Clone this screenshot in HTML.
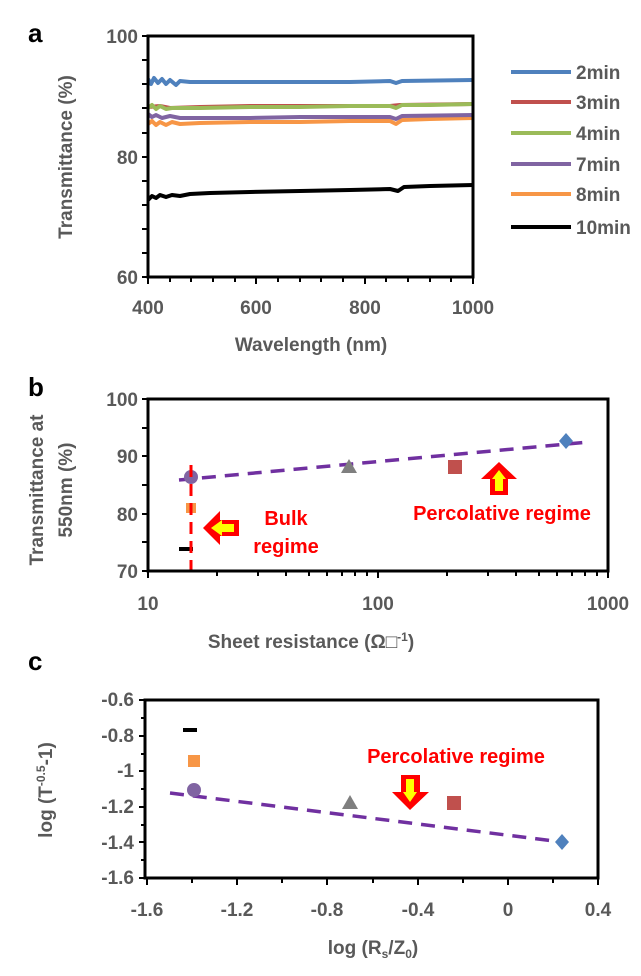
<!DOCTYPE html>
<html><head><meta charset="utf-8"><style>
html,body{margin:0;padding:0;background:#fff}
svg{display:block}
text{font-family:"Liberation Sans",sans-serif}
.t{font-size:19px;font-weight:bold;fill:#595959}
.p{font-size:26px;font-weight:bold;fill:#000}
.r{font-size:20px;font-weight:bold;fill:#ff0000}
</style></head><body>
<svg width="641" height="976" viewBox="0 0 641 976" xmlns="http://www.w3.org/2000/svg">
<!-- Panel a -->
<text class="p" x="28" y="42">a</text>
<g class="t" text-anchor="end">
<text x="138" y="43">100</text><text x="138" y="164">80</text><text x="138" y="284">60</text>
</g>
<g class="t" text-anchor="middle">
<text x="148" y="314">400</text><text x="256" y="314">600</text><text x="365" y="314">800</text><text x="473" y="314">1000</text>
<text x="311" y="351">Wavelength (nm)</text>
<text transform="translate(72,157) rotate(-90)">Transmittance (%)</text>
</g>
<g stroke="#000" stroke-width="2">
<line x1="148" y1="60" x2="142" y2="60"/><line x1="148" y1="84" x2="142" y2="84"/><line x1="148" y1="108" x2="142" y2="108"/><line x1="148" y1="133" x2="142" y2="133"/><line x1="148" y1="157" x2="142" y2="157"/><line x1="148" y1="181" x2="142" y2="181"/><line x1="148" y1="205" x2="142" y2="205"/><line x1="148" y1="229" x2="142" y2="229"/><line x1="148" y1="253" x2="142" y2="253"/><line x1="148" y1="36" x2="142" y2="36"/><line x1="148" y1="277" x2="142" y2="277"/>
<line x1="148" y1="277" x2="148" y2="284"/><line x1="170" y1="277" x2="170" y2="282"/><line x1="191" y1="277" x2="191" y2="282"/><line x1="213" y1="277" x2="213" y2="282"/><line x1="235" y1="277" x2="235" y2="282"/><line x1="256" y1="277" x2="256" y2="284"/><line x1="278" y1="277" x2="278" y2="282"/><line x1="300" y1="277" x2="300" y2="282"/><line x1="321" y1="277" x2="321" y2="282"/><line x1="343" y1="277" x2="343" y2="282"/><line x1="365" y1="277" x2="365" y2="284"/><line x1="386" y1="277" x2="386" y2="282"/><line x1="408" y1="277" x2="408" y2="282"/><line x1="430" y1="277" x2="430" y2="282"/><line x1="451" y1="277" x2="451" y2="282"/><line x1="473" y1="277" x2="473" y2="284"/>
</g>
<g fill="none" stroke-width="4" stroke-linejoin="round">
<polyline stroke="#000" points="148,200 152,196 156,198 160,195 166,197 172,195 180,196 190,194 210,193 250,192 300,191 350,190 390,189 398,191 404,187 430,186 473,185"/>
<polyline stroke="#f79646" points="148,124 152,121 156,125 160,122 166,125 172,122 180,124 200,123 250,122 300,122 350,121 390,121 396,124 402,120 430,119 473,118"/>
<polyline stroke="#8064a2" points="148,114 152,117 156,115 162,118 170,116 180,118 200,118 250,118 300,117 350,117 390,117 396,119 402,116 473,115"/>
<polyline stroke="#c0504d" points="148,107 160,106 170,108 200,107 250,106 300,106 350,106 390,106 400,105 473,104"/>
<polyline stroke="#9bbb59" points="148,108 152,105 156,109 160,106 166,109 172,108 180,108 200,108 250,107 300,107 350,106 390,106 396,108 402,105 430,105 473,104"/>
<polyline stroke="#4f81bd" points="148,79 151,84 154,78 158,83 162,79 166,84 170,80 176,85 180,81 190,82 250,82 300,82 350,82 390,81 396,83 402,81 473,80"/>
</g>
<rect x="148" y="36" width="325" height="241" fill="none" stroke="#000" stroke-width="3"/>
<g stroke-width="4">
<line x1="511" y1="72" x2="571" y2="72" stroke="#4f81bd"/>
<line x1="511" y1="102" x2="571" y2="102" stroke="#c0504d"/>
<line x1="511" y1="133" x2="571" y2="133" stroke="#9bbb59"/>
<line x1="511" y1="164" x2="571" y2="164" stroke="#8064a2"/>
<line x1="511" y1="194" x2="571" y2="194" stroke="#f79646"/>
<line x1="511" y1="227" x2="571" y2="227" stroke="#000"/>
</g>
<g class="t">
<text x="576" y="79">2min</text><text x="576" y="109">3min</text><text x="576" y="140">4min</text><text x="576" y="171">7min</text><text x="576" y="201">8min</text><text x="576" y="234">10min</text>
</g>

<!-- Panel b -->
<text class="p" x="28" y="396">b</text>
<g class="t" text-anchor="end">
<text x="138" y="406">100</text><text x="138" y="463">90</text><text x="138" y="521">80</text><text x="138" y="578">70</text>
</g>
<g class="t" text-anchor="middle">
<text x="148" y="610">10</text><text x="378" y="610">100</text><text x="608" y="610">1000</text>
<text x="311" y="648">Sheet resistance (Ω□<tspan font-size="12" dy="-7">-1</tspan><tspan dy="7">)</tspan></text>
<text transform="translate(43,490) rotate(-90)">Transmittance at</text>
<text transform="translate(72,490) rotate(-90)">550nm (%)</text>
</g>
<g stroke="#000" stroke-width="2">
<line x1="148" y1="399" x2="142" y2="399"/><line x1="148" y1="428" x2="142" y2="428"/><line x1="148" y1="456" x2="142" y2="456"/><line x1="148" y1="485" x2="142" y2="485"/><line x1="148" y1="514" x2="142" y2="514"/><line x1="148" y1="542" x2="142" y2="542"/><line x1="148" y1="571" x2="142" y2="571"/>
<line x1="148" y1="571" x2="148" y2="578"/><line x1="217" y1="571" x2="217" y2="576"/><line x1="258" y1="571" x2="258" y2="576"/><line x1="286" y1="571" x2="286" y2="576"/><line x1="309" y1="571" x2="309" y2="576"/><line x1="327" y1="571" x2="327" y2="576"/><line x1="342" y1="571" x2="342" y2="576"/><line x1="355" y1="571" x2="355" y2="576"/><line x1="367" y1="571" x2="367" y2="576"/><line x1="378" y1="571" x2="378" y2="578"/><line x1="447" y1="571" x2="447" y2="576"/><line x1="488" y1="571" x2="488" y2="576"/><line x1="516" y1="571" x2="516" y2="576"/><line x1="539" y1="571" x2="539" y2="576"/><line x1="557" y1="571" x2="557" y2="576"/><line x1="572" y1="571" x2="572" y2="576"/><line x1="585" y1="571" x2="585" y2="576"/><line x1="597" y1="571" x2="597" y2="576"/><line x1="608" y1="571" x2="608" y2="578"/>
</g>
<line x1="179" y1="480" x2="589" y2="442" stroke="#7030a0" stroke-width="3.5" stroke-dasharray="14,9"/>
<circle cx="191" cy="477" r="7" fill="#8064a2"/>
<polygon points="349,459 357,473 341,473" fill="#7f7f7f"/>
<rect x="448" y="460" width="14" height="14" fill="#c0504d"/>
<polygon points="566,433 573,441 566,449 559,441" fill="#4f81bd"/>
<rect x="186" y="503" width="10" height="10" fill="#f79646"/>
<rect x="179" y="547" width="14" height="4" fill="#000"/>
<line x1="191" y1="465" x2="191" y2="571" stroke="#ff0000" stroke-width="3" stroke-dasharray="12,7"/>
<rect x="148" y="399" width="460" height="172" fill="none" stroke="#000" stroke-width="3"/>
<polygon points="203,528 220,511 220,520 239,520 239,536 220,536 220,545" fill="#ff0000"/>
<polygon points="211,528 222,520 222,524 234,524 234,532 222,532 222,536" fill="#ffff00"/>
<g class="r" text-anchor="middle">
<text x="286" y="525">Bulk</text><text x="286" y="553">regime</text>
<text x="502" y="520">Percolative regime</text>
</g>
<polygon points="499,462 517,479 508,479 508,495 490,495 490,479 481,479" fill="#ff0000"/>
<polygon points="499,470 506,479 503,479 503,491 495,491 495,479 492,479" fill="#ffff00"/>

<!-- Panel c -->
<text class="p" x="28" y="670">c</text>
<g class="t" text-anchor="end">
<text x="134" y="706">-0.6</text><text x="134" y="742">-0.8</text><text x="134" y="777">-1</text><text x="134" y="813">-1.2</text><text x="134" y="849">-1.4</text><text x="134" y="884">-1.6</text>
</g>
<g class="t" text-anchor="middle">
<text x="147" y="916">-1.6</text><text x="237" y="916">-1.2</text><text x="327" y="916">-0.8</text><text x="418" y="916">-0.4</text><text x="508" y="916">0</text><text x="598" y="916">0.4</text>
<text x="373" y="954">log (R<tspan font-size="12" dy="4">s</tspan><tspan dy="-4">/Z</tspan><tspan font-size="12" dy="4">0</tspan><tspan dy="-4">)</tspan></text>
<text transform="translate(52,790) rotate(-90)">log (T<tspan font-size="12" dy="-7">-0.5</tspan><tspan dy="7">-1)</tspan></text>
</g>
<g stroke="#000" stroke-width="2">
<line x1="145" y1="700" x2="139" y2="700"/><line x1="145" y1="718" x2="141" y2="718"/><line x1="145" y1="736" x2="139" y2="736"/><line x1="145" y1="754" x2="141" y2="754"/><line x1="145" y1="771" x2="139" y2="771"/><line x1="145" y1="789" x2="141" y2="789"/><line x1="145" y1="807" x2="139" y2="807"/><line x1="145" y1="825" x2="141" y2="825"/><line x1="145" y1="842" x2="139" y2="842"/><line x1="145" y1="860" x2="141" y2="860"/><line x1="145" y1="878" x2="139" y2="878"/>
<line x1="147" y1="878" x2="147" y2="885"/><line x1="192" y1="878" x2="192" y2="883"/><line x1="237" y1="878" x2="237" y2="885"/><line x1="282" y1="878" x2="282" y2="883"/><line x1="327" y1="878" x2="327" y2="885"/><line x1="373" y1="878" x2="373" y2="883"/><line x1="418" y1="878" x2="418" y2="885"/><line x1="463" y1="878" x2="463" y2="883"/><line x1="508" y1="878" x2="508" y2="885"/><line x1="553" y1="878" x2="553" y2="883"/><line x1="598" y1="878" x2="598" y2="885"/>
</g>
<line x1="170" y1="793" x2="562" y2="842" stroke="#7030a0" stroke-width="3.5" stroke-dasharray="14,9"/>
<rect x="183" y="728" width="14" height="4" fill="#000"/>
<rect x="188" y="755" width="12" height="12" fill="#f79646"/>
<circle cx="194" cy="790" r="7" fill="#8064a2"/>
<polygon points="350,795 358,809 342,809" fill="#7f7f7f"/>
<rect x="447" y="796" width="14" height="14" fill="#c0504d"/>
<polygon points="562,834 569,842 562,850 555,842" fill="#4f81bd"/>
<rect x="145" y="700" width="453" height="178" fill="none" stroke="#000" stroke-width="3"/>
<text class="r" x="456" y="763" text-anchor="middle">Percolative regime</text>
<polygon points="410,810 429,792 420,792 420,775 401,775 401,792 392,792" fill="#ff0000"/>
<polygon points="410,802 417,792 414,792 414,779 406,779 406,792 403,792" fill="#ffff00"/>
</svg>
</body></html>
